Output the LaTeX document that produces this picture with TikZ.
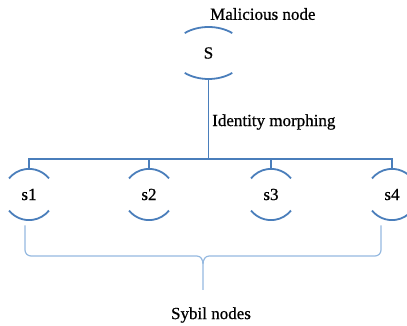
\documentclass[tikz,border=0pt]{standalone}
\usepackage{fontspec}
\setmainfont{Liberation Serif}
\newfontfamily\semibold[FakeBold=0.7]{Liberation Serif}
\usetikzlibrary{shapes.geometric,calc}
\definecolor{dkblue}{HTML}{4A7EBB}
\definecolor{ltblue}{HTML}{95B9E0}
\begin{document}
\begin{tikzpicture}[x=1pt,y=1pt,
  dk/.style={draw=dkblue,line width=1.8pt},
  lt/.style={draw=ltblue,line width=1.2pt},
  txt/.style={font=\semibold\fontsize{17}{20}\selectfont,inner sep=0pt},
  enode/.style={ellipse,minimum width=74pt,minimum height=52pt,inner sep=0pt,font=\semibold\fontsize{17}{20}\selectfont},
  cnode/.style={circle,minimum size=51.2pt,inner sep=0pt,font=\semibold\fontsize{17}{20}\selectfont}]
\useasboundingbox (0,0) rectangle (407,326);
\clip (0,0) rectangle (407,326);
% nodes
\node[enode] (S) at (208.5,273) {S};
\node[cnode] (s1) at (29,131.5) {s1};
\node[cnode] (s2) at (149,131.5) {s2};
\node[cnode] (s3) at (271,131.5) {s3};
\node[cnode] (s4) at (392,131.5) {s4};
\node[txt,anchor=west] (mal) at (210,312) {Malicious node};
\node[txt,anchor=west] (idm) at (212,204) {Identity morphing};
\node[txt] (syb) at (211,11) {Sybil nodes};
% arcs of S
\draw[dk] (S.center) ++(50:37 and 26) arc[start angle=50,end angle=130,x radius=37,y radius=26];
\draw[dk] (S.center) ++(230:37 and 26) arc[start angle=230,end angle=310,x radius=37,y radius=26];
% arcs of s nodes
\foreach \n in {s1,s2,s3,s4}{
  \draw[dk] (\n.center) ++(39:25.6) arc[start angle=39,end angle=141,radius=25.6];
  \draw[dk] (\n.center) ++(219:25.6) arc[start angle=219,end angle=321,radius=25.6];
}
% tree connectors
\coordinate (J) at (S.south |- 0,167);
\draw[dk] (S.south) -- (J);
\draw[dk] (s1.north) |- (J);
\draw[dk] (s4.north) |- (J);
\draw[dk] (s2.north) -- (s2.north |- J);
\draw[dk] (s3.north) -- (s3.north |- J);
% brace
\coordinate (bl) at ($(s1.south)+(-4,-5)$);
\coordinate (br) at ($(s4.south)+(-11,-5)$);
\coordinate (tip) at (203,36);
\draw[lt] (bl) -- (bl |- 0,76) to[out=-90,in=180] ($(bl |- 0,70)+(6,0)$) -- (197,70) to[out=0,in=90] (203,62) -- (tip);
\draw[lt] (br) -- (br |- 0,76) to[out=-90,in=0] ($(br |- 0,70)+(-6,0)$) -- (209,70) to[out=180,in=90] (203,62);
\end{tikzpicture}
\end{document}
